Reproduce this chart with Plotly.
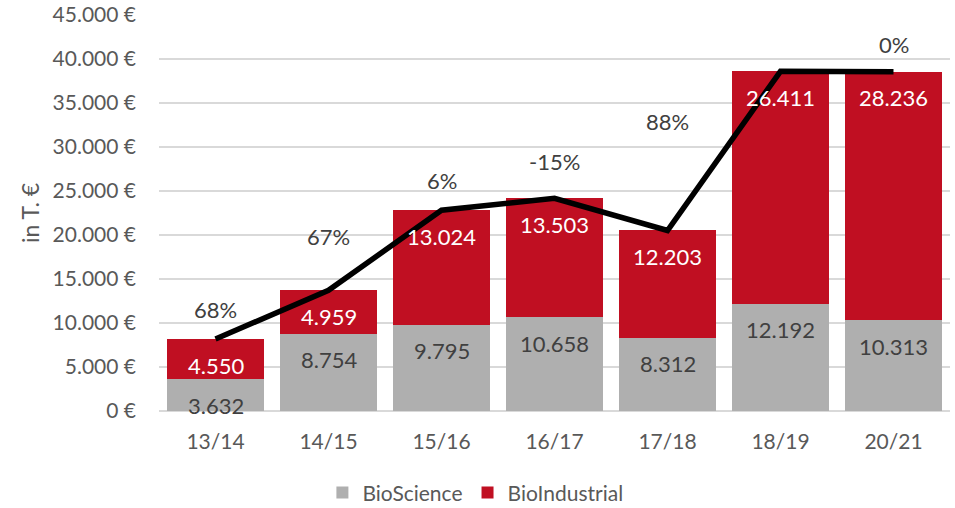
import plotly.graph_objects as go

# Umsatz je Geschäftsjahr (in T. €)
years = ["13/14", "14/15", "15/16", "16/17", "17/18", "18/19", "20/21"]
bioscience = [3632, 8754, 9795, 10658, 8312, 12192, 10313]
biointustrial = [4550, 4959, 13024, 13503, 12203, 26411, 28236]
growth_labels = ["68%", "67%", "6%", "-15%", "88%", "", "0%"]
growth_label_y = [11500, 19800, 26200, 28300, 32900, None, 41700]

totals = [a + b for a, b in zip(bioscience, biointustrial)]

GREY = "#AFAFAF"
RED = "#C00F22"
TEXT = "#595959"
FONT = "Lato"


def de(n):
    return f"{n:,}".replace(",", ".")


fig = go.Figure()
fig.add_trace(go.Bar(x=years, y=bioscience, name="BioScience",
                     marker=dict(color=GREY, line=dict(width=0))))
fig.add_trace(go.Bar(x=years, y=biointustrial, name="BioIndustrial",
                     marker=dict(color=RED, line=dict(width=0))))
fig.add_trace(go.Scatter(x=years, y=totals, mode="lines", showlegend=False,
                         line=dict(color="black", width=5.5), hoverinfo="skip"))

annotations = []
for yr, g, r, t in zip(years, bioscience, biointustrial, totals):
    annotations.append(dict(x=yr, y=g, yshift=-26, text=de(g), showarrow=False,
                            font=dict(family=FONT, size=22, color="#404040")))
    annotations.append(dict(x=yr, y=t, yshift=-26, text=de(r), showarrow=False,
                            font=dict(family=FONT, size=22, color="white")))
for yr, lab, ly in zip(years, growth_labels, growth_label_y):
    if lab:
        annotations.append(dict(x=yr, y=ly, text=lab, showarrow=False,
                                font=dict(family=FONT, size=22, color="#404040")))

fig.update_layout(
    width=955, height=508,
    margin=dict(l=159, r=5, t=15, b=97, autoexpand=False),
    paper_bgcolor="white", plot_bgcolor="white",
    barmode="stack", bargap=0.14,
    separators=",.",
    font=dict(family=FONT, color=TEXT, size=21),
    annotations=annotations,
    legend=dict(orientation="h", x=0.40, xanchor="center", y=-0.207, yanchor="middle",
                font=dict(family=FONT, size=21, color=TEXT), traceorder="normal",
                itemwidth=30),
    xaxis=dict(showgrid=False, showline=False, ticks="", tickfont=dict(size=21, color=TEXT),
               ticklabelstandoff=16),
    yaxis=dict(range=[0, 45000], dtick=5000, tickformat=",d", ticksuffix=" €",
               showgrid=True, gridcolor="#D9D9D9", gridwidth=1.5, zeroline=True,
               zerolinecolor="#D9D9D9", zerolinewidth=1.5, showline=False, ticks="",
               tickfont=dict(size=21, color=TEXT), ticklabelstandoff=22,
               title=dict(text="in T. €", font=dict(size=23, color=TEXT), standoff=6)),
)

fig.write_html("out.html")
